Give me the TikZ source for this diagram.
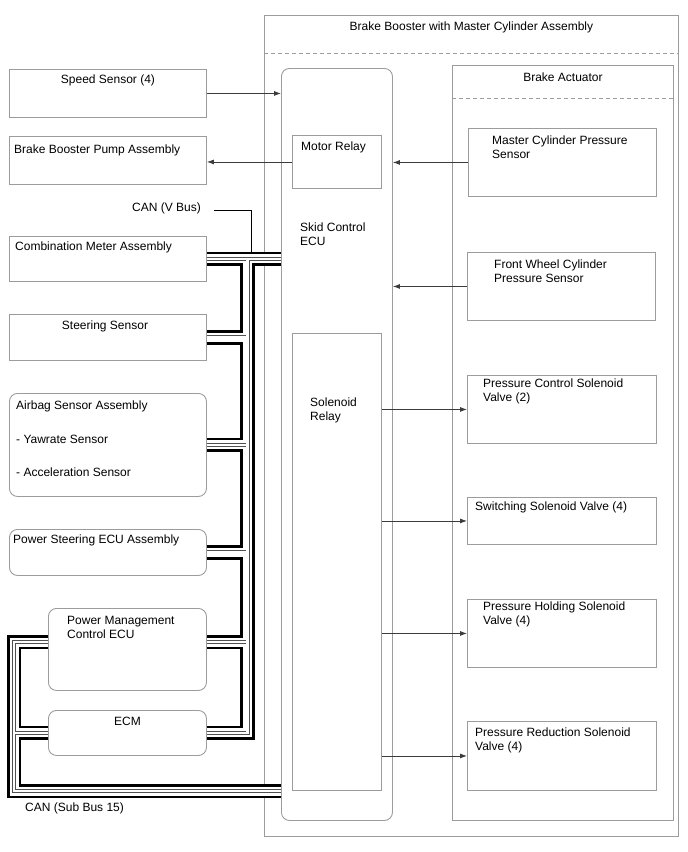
\documentclass[tikz,border=0pt]{standalone}
\usepackage{fontspec}
\setmainfont{Liberation Sans}
\usetikzlibrary{arrows.meta, positioning, calc}
\definecolor{c1}{HTML}{000000}
\definecolor{boxgray}{HTML}{9C9C9C}
\definecolor{arrgray}{HTML}{3C3C3C}
\definecolor{wirelo}{HTML}{505050}

\begin{document}
\begin{tikzpicture}[
    x=1pt, y=-1pt,
    every node/.style={font=\fontsize{12}{14}\selectfont},
    blk/.style={rectangle, draw=boxgray, line width=0.9pt, inner sep=0pt, anchor=north west},
    rblk/.style={blk, rounded corners=8pt},
    txt/.style={anchor=west, inner sep=0pt, align=left},
    ctxt/.style={inner sep=0pt, align=center},
    arr/.style={-{Latex[length=7pt, width=5pt]}, line width=0.8pt, color=arrgray},
    guide/.style={boxgray, line width=0.9pt, dash pattern=on 4pt off 3pt},
    wire/.style={c1, line width=0.8pt},
    canbus/.style={c1, line width=14.5pt, line join=miter,
        postaction={draw=white, line width=9pt},
        postaction={draw=wirelo, line width=4pt},
        postaction={draw=white, line width=2.4pt}},
]
\useasboundingbox (0,0) rectangle (688,852);

% ============================================================ booster with master cylinder
\node[blk, minimum width=414pt, minimum height=821pt] (bbm) at (264,15) {};
\draw[guide] (bbm.west |- 0,53) -- (bbm.east |- 0,53);
\node[ctxt] (bbmt) at (bbm.north |- 0,27) {Brake Booster with Master Cylinder Assembly};

% skid control ecu and its relays
\node[rblk, minimum width=111pt, minimum height=752pt] (ecu) at (281,68) {};
\node[txt] (ecut) at (300,234) {Skid Control\\ECU};
\node[blk, minimum width=89pt, minimum height=53pt] (mr) at (292,135) {};
\node[txt] (mrt) at (301,147) {Motor Relay};
\node[blk, minimum width=89pt, minimum height=457pt] (sr) at (292,333) {};
\node[txt] (srt) at (310,410) {Solenoid\\Relay};

% brake actuator
\node[blk, minimum width=221pt, minimum height=755pt] (ba) at (452,65) {};
\draw[guide] (ba.west |- 0,98) -- (ba.east |- 0,98);
\node[ctxt] (bat) at (ba.north |- 0,77) {Brake Actuator};

\node[blk, minimum width=188pt, minimum height=68pt] (mcp) at (468,128) {};
\node[txt] (mcpt) at (492,147) {Master Cylinder Pressure\\Sensor};
\node[blk, minimum width=188pt, minimum height=68pt] (fwc) at (467,252) {};
\node[txt] (fwct) at (494,271) {Front Wheel Cylinder\\Pressure Sensor};
\node[blk, minimum width=189pt, minimum height=68pt] (pcs) at (467,375) {};
\node[txt] (pcst) at (483,391) {Pressure Control Solenoid\\Valve (2)};
\node[blk, minimum width=189pt, minimum height=47pt] (sws) at (467,497) {};
\node[txt] (swst) at (475,507) {Switching Solenoid Valve (4)};
\node[blk, minimum width=189pt, minimum height=68pt] (phs) at (467,599) {};
\node[txt] (phst) at (483,614) {Pressure Holding Solenoid\\Valve (4)};
\node[blk, minimum width=189pt, minimum height=69pt] (prs) at (467,721) {};
\node[txt] (prst) at (475,740) {Pressure Reduction Solenoid\\Valve (4)};

% ============================================================ outside units
\node[blk, minimum width=197pt, minimum height=48pt] (ss) at (9,69) {};
\node[ctxt] (sst) at (ss.north |- 0,80) {Speed Sensor (4)};
\node[blk, minimum width=197pt, minimum height=48pt] (pump) at (9,136) {};
\node[txt] (pumpt) at (14,150) {Brake Booster Pump Assembly};
\node[blk, minimum width=197pt, minimum height=45pt] (cm) at (9,236) {};
\node[txt] (cmt) at (15,247) {Combination Meter Assembly};
\node[blk, minimum width=197pt, minimum height=46pt] (st) at (9,314) {};
\node[ctxt] (stt) at (105,326) {Steering Sensor};
\node[rblk, minimum width=197pt, minimum height=103pt] (ab) at (9,393) {};
\node[txt] (abt) at (16,406) {Airbag Sensor Assembly};
\node[txt] (abya) at (16,439) {- Yawrate Sensor};
\node[txt] (abac) at (16,472) {- Acceleration Sensor};
\node[rblk, minimum width=197pt, minimum height=46pt] (ps) at (9,529) {};
\node[txt] (pst) at (13,540) {Power Steering ECU Assembly};
\node[rblk, minimum width=158pt, minimum height=82pt] (pmc) at (48,608) {};
\node[txt] (pmct) at (67,627) {Power Management\\Control ECU};
\node[rblk, minimum width=158pt, minimum height=45pt] (ecm) at (48,710) {};
\node[ctxt] (ecmt) at (ecm.north |- 0,721) {ECM};

% ============================================================ signal lines
\draw[arr] (ss.east) -- (ss.east -| ecu.west);
\draw[arr] (mr.west) -- (mr.west -| pump.east);
\draw[arr] (mcp.west) -- (mcp.west -| ecu.east);
\draw[arr] (fwc.west) -- (fwc.west -| ecu.east);
\foreach \v in {pcs, sws, phs, prs}{
    \draw[arr] (sr.east |- \v.west) -- (\v.west);
}

% ============================================================ can lines
\coordinate (vtrunk) at (247.5,0);
\coordinate (ltrunk) at (14,0);
\coordinate (pmcbus) at (0,642);
\coordinate (subbus) at (ecu.west |- 0,791);
\coordinate (vtap) at (251,252);

\draw[canbus]
    (cm.east) -- (cm.east -| ecu.west)
    (cm.east -| vtrunk) -- (ecm.east -| vtrunk) -- (ecm.east)
    (st.east) -- (st.east -| vtrunk)
    (ab.east) -- (ab.east -| vtrunk)
    (ps.east) -- (ps.east -| vtrunk)
    (pmc.east |- pmcbus) -- (vtrunk |- pmcbus)
    (pmc.west |- pmcbus) -- (ltrunk |- pmcbus) -- (ltrunk |- subbus) -- (subbus)
    (ecm.west) -- (ecm.west -| ltrunk);

\node[anchor=east, inner sep=0pt] (canv) at (201,208) {CAN (V Bus)};
\draw[wire] ([xshift=13pt, yshift=-2pt]canv.east) -| (vtap);
\node[txt] (cans) at (25,808) {CAN (Sub Bus 15)};

\end{tikzpicture}
\end{document}
